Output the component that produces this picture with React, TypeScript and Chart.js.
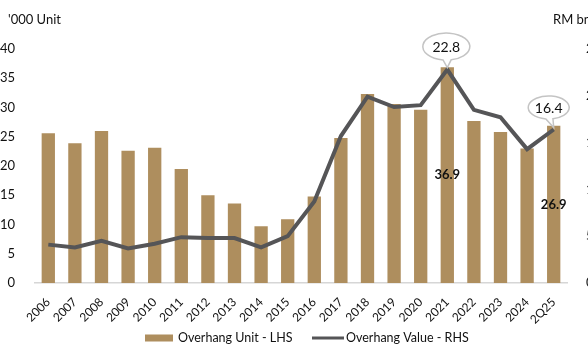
import React, { useEffect, useRef } from "react";
import { Chart, registerables } from "chart.js";

Chart.register(...registerables);

// Overhang data by year
const categories = [
  "2006", "2007", "2008", "2009", "2010", "2011", "2012", "2013", "2014", "2015",
  "2016", "2017", "2018", "2019", "2020", "2021", "2022", "2023", "2024", "2Q25",
];
// '000 units (left axis)
const overhangUnits = [
  25.6, 23.9, 26.0, 22.6, 23.1, 19.5, 15.0, 13.6, 9.7, 10.9,
  14.8, 24.8, 32.3, 30.6, 29.6, 36.9, 27.7, 25.8, 23.0, 26.9,
];
// RM bn (right axis)
const overhangValue = [
  4.1, 3.8, 4.5, 3.7, 4.2, 4.9, 4.8, 4.8, 3.8, 5.0,
  8.7, 15.7, 19.9, 18.8, 19.0, 22.8, 18.5, 17.7, 14.3, 16.4,
];
const unitLabelIdx = [15, 19];
const valueCalloutIdx = [15, 19];
const leftTitle = "'000 Unit";
const rightTitle = "RM bn";
const unitLegend = "Overhang Unit - LHS";
const valueLegend = "Overhang Value - RHS";

const BAR = "#ae8e5e";
const LINE = "#555557";
const FONT = "Lato, 'Open Sans', sans-serif";

const extras = {
  id: "extras",
  afterDatasetsDraw(chart: any) {
    const ctx = chart.ctx;
    const barMeta = chart.getDatasetMeta(0);
    const lineMeta = chart.getDatasetMeta(1);
    ctx.save();

    // bold value labels centred in bars
    ctx.font = `bold 13px ${FONT}`;
    ctx.fillStyle = "#111";
    ctx.textAlign = "center";
    ctx.textBaseline = "middle";
    unitLabelIdx.forEach((i) => {
      const el = barMeta.data[i];
      ctx.fillText(overhangUnits[i].toFixed(1), el.x, (el.y + el.base) / 2);
    });

    // speech-bubble callouts above line points
    const shapes = [
      { dx: -1, dy: -23, rx: 23.5, ry: 13.5 },
      { dx: -5, dy: -22, rx: 20.5, ry: 11.5 },
    ];
    valueCalloutIdx.forEach((i, k) => {
      const p = lineMeta.data[i];
      const s = shapes[k];
      const cx = p.x + s.dx;
      const cy = p.y + s.dy;
      const a1 = (98 * Math.PI) / 180;
      const a2 = (78 * Math.PI) / 180 + Math.PI * 2;
      ctx.beginPath();
      ctx.ellipse(cx, cy, s.rx, s.ry, 0, a1, a2, false);
      ctx.lineTo(p.x, p.y - 2);
      ctx.closePath();
      ctx.fillStyle = "#ffffff";
      ctx.fill();
      ctx.strokeStyle = "#c4c4c4";
      ctx.lineWidth = 1.5;
      ctx.stroke();
      ctx.font = `14px ${FONT}`;
      ctx.fillStyle = "#111";
      ctx.textAlign = "center";
      ctx.textBaseline = "middle";
      ctx.fillText(overhangValue[i].toFixed(1), cx, cy + 1);
    });
    ctx.restore();
  },
  afterDraw(chart: any) {
    const ctx = chart.ctx;
    ctx.save();
    ctx.font = `13px ${FONT}`;
    ctx.fillStyle = "#111";
    ctx.textBaseline = "middle";
    ctx.textAlign = "left";
    ctx.fillText(leftTitle, 8, 20);
    ctx.fillText(rightTitle, 553, 20);

    // legend
    const ly = 338;
    ctx.font = `12.5px ${FONT}`;
    ctx.fillStyle = BAR;
    ctx.fillRect(145, ly - 3.5, 28, 7);
    ctx.fillStyle = "#111";
    ctx.fillText(unitLegend, 178, ly);
    ctx.strokeStyle = LINE;
    ctx.lineWidth = 3;
    ctx.beginPath();
    ctx.moveTo(312, ly);
    ctx.lineTo(344, ly);
    ctx.stroke();
    ctx.fillText(valueLegend, 346, ly);
    ctx.restore();
  },
};

export default function App() {
  const ref = useRef<HTMLCanvasElement | null>(null);

  useEffect(() => {
    const canvas = ref.current;
    if (!canvas) return;
    Chart.defaults.font.family = FONT;
    const chart = new Chart(canvas, {
      type: "bar",
      data: {
        labels: categories,
        datasets: [
          {
            type: "bar",
            label: unitLegend,
            data: overhangUnits,
            backgroundColor: BAR,
            yAxisID: "yL",
            barPercentage: 0.5,
            categoryPercentage: 1,
            order: 2,
          },
          {
            type: "line",
            label: valueLegend,
            data: overhangValue,
            borderColor: LINE,
            backgroundColor: LINE,
            borderWidth: 4,
            pointRadius: 0,
            tension: 0,
            yAxisID: "yR",
            order: 1,
          } as any,
        ],
      },
      options: {
        responsive: false,
        animation: false,
        devicePixelRatio: 1,
        layout: { padding: { top: 49, left: 0, right: 0, bottom: 0 } },
        plugins: { legend: { display: false }, tooltip: { enabled: false } },
        scales: {
          x: {
            grid: { display: false },
            border: { display: true, color: "#d6d6d6", width: 1.5 },
            ticks: {
              color: "#111",
              font: { size: 12 },
              maxRotation: 45,
              minRotation: 45,
              autoSkip: false,
              padding: 4,
            },
            afterFit: (s: any) => {
              s.height = 64;
            },
          },
          yL: {
            position: "left",
            min: 0,
            max: 40,
            grid: { display: false },
            border: { display: false },
            ticks: { stepSize: 5, color: "#111", font: { size: 13 }, padding: 12 },
            afterFit: (s: any) => {
              s.width = 35;
            },
          },
          yR: {
            position: "right",
            min: 0,
            max: 25,
            grid: { display: false },
            border: { display: false },
            ticks: { stepSize: 5, color: "#111", font: { size: 13 }, padding: 11 },
            afterFit: (s: any) => {
              s.width = 53;
            },
          },
        },
      },
      plugins: [extras],
    });
    return () => chart.destroy();
  }, []);

  return (
    <div
      style={{
        position: "fixed",
        left: 0,
        top: 0,
        width: 588,
        height: 347,
        overflow: "hidden",
        background: "#fff",
      }}
    >
      <canvas ref={ref} width={620} height={347} style={{ display: "block", width: 620, height: 347 }} />
    </div>
  );
}
